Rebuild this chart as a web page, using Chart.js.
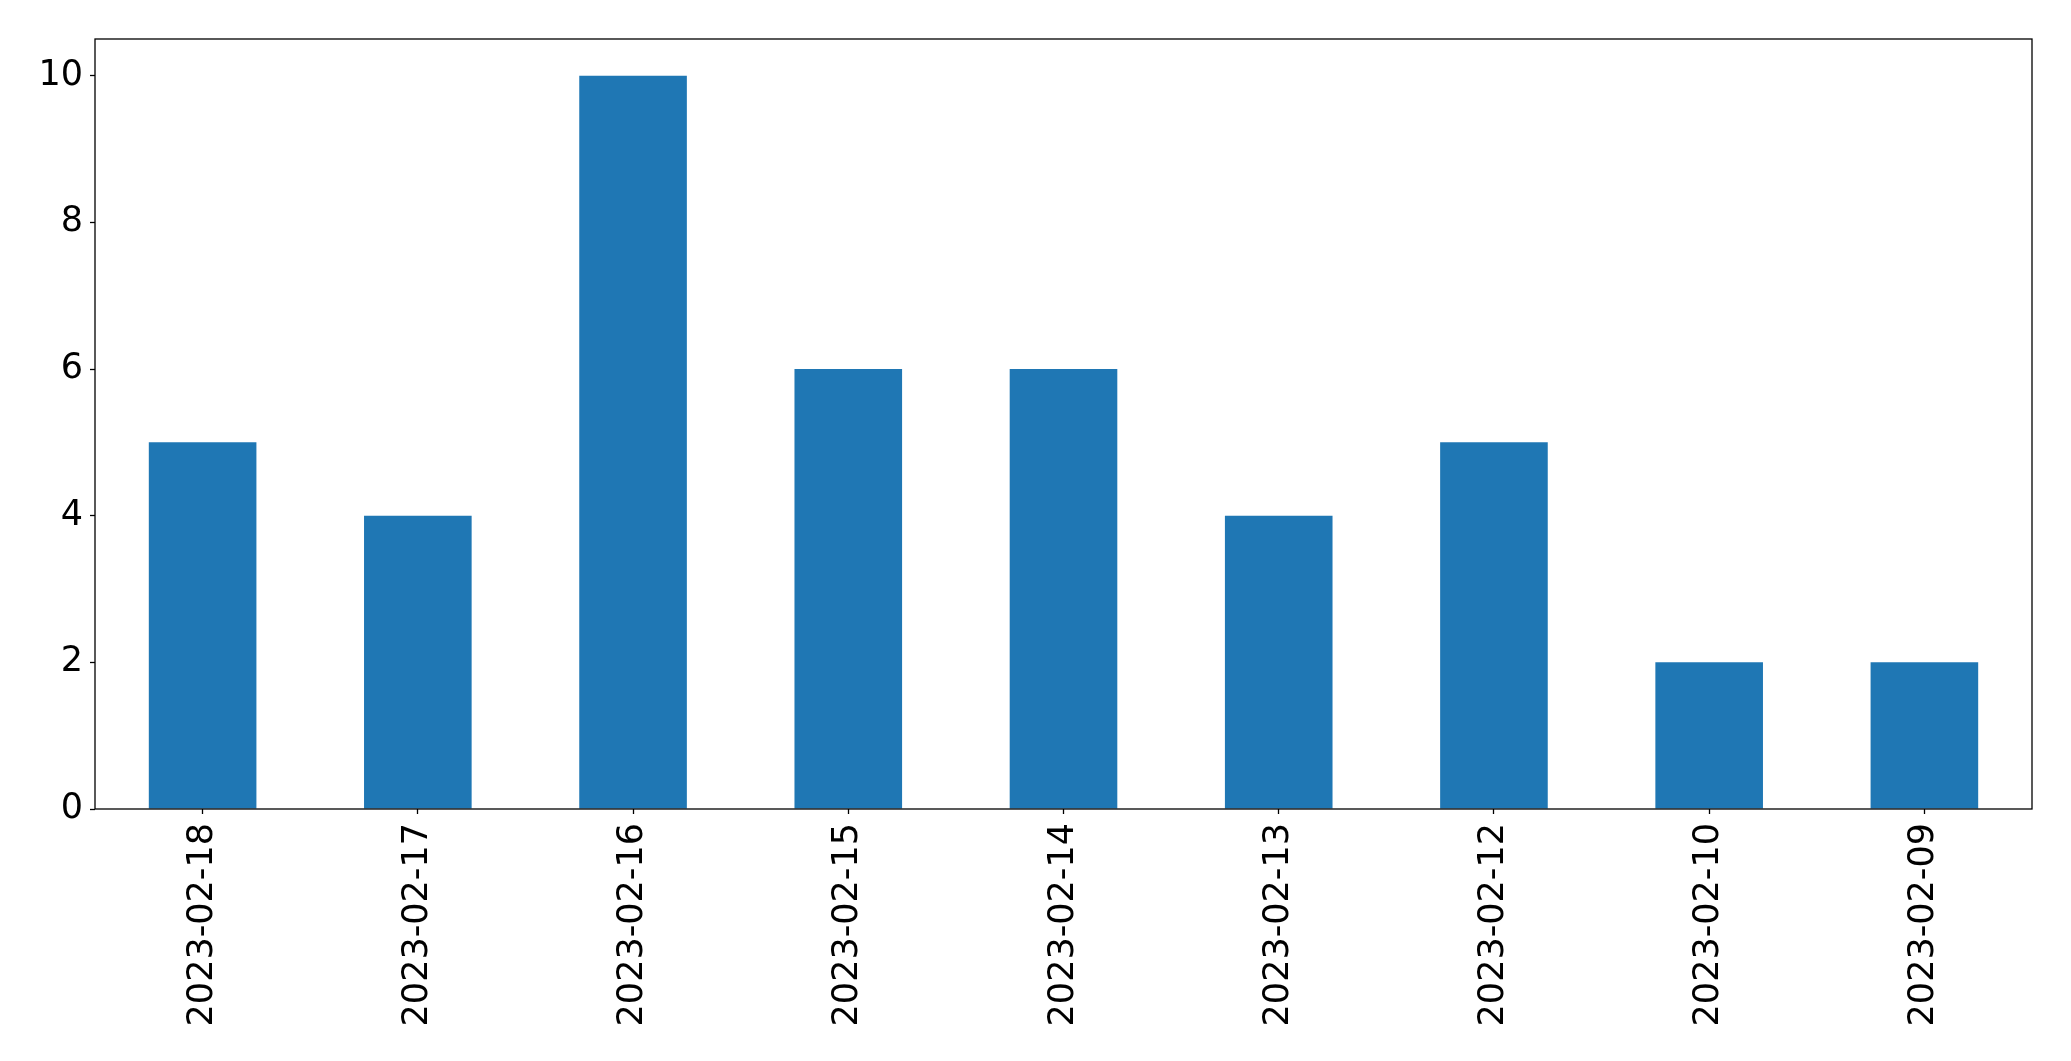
<!DOCTYPE html>
<html lang="en">
<head>
    <meta charset="UTF-8">
    <title>Daily counts</title>
    <style>
        body {
            margin: 0;
            background: #ffffff;
        }
        #wrap {
            width: 2071px;
            height: 1061px;
        }
    </style>
</head>
<body>
    <div id="wrap">
        <canvas id="chart" width="2071" height="1061"></canvas>
    </div>
    <script src="https://cdn.jsdelivr.net/npm/chart.js"></script>
    <script>
        const dates = ['2023-02-18', '2023-02-17', '2023-02-16', '2023-02-15', '2023-02-14',
                       '2023-02-13', '2023-02-12', '2023-02-10', '2023-02-09'];
        const counts = [5, 4, 10, 6, 6, 4, 5, 2, 2];
        const yTicks = [0, 2, 4, 6, 8, 10];

        // matplotlib-style box around the plot area
        const frame = {
            id: 'frame',
            afterDatasetsDraw(chart) {
                const a = chart.chartArea;
                const ctx = chart.ctx;
                ctx.save();
                ctx.strokeStyle = '#000000';
                ctx.lineWidth = 1.3;
                ctx.strokeRect(a.left, a.top, a.right - a.left, a.bottom - a.top);
                ctx.restore();
            }
        };

        new Chart(document.getElementById('chart'), {
            type: 'bar',
            data: {
                labels: dates,
                datasets: [{
                    data: counts,
                    backgroundColor: '#1f77b4',
                    borderWidth: 0,
                    barPercentage: 0.5,
                    categoryPercentage: 1.0
                }]
            },
            options: {
                responsive: false,
                animation: false,
                layout: {
                    padding: { left: 0, top: 39, right: 39, bottom: 0 }
                },
                plugins: {
                    legend: { display: false },
                    tooltip: { enabled: false }
                },
                scales: {
                    x: {
                        offset: true,
                        grid: {
                            offset: false,
                            drawOnChartArea: false,
                            tickLength: 5,
                            tickColor: '#000000',
                            tickWidth: 1.3
                        },
                        border: { display: false },
                        ticks: {
                            color: '#000000',
                            font: { family: 'DejaVu Sans', size: 35 },
                            minRotation: 90,
                            maxRotation: 90,
                            padding: 9,
                            autoSkip: false
                        },
                        afterFit(axis) { axis.height = 252; }
                    },
                    y: {
                        min: 0,
                        max: 10.5,
                        afterBuildTicks(axis) {
                            axis.ticks = yTicks.map(v => ({ value: v }));
                        },
                        grid: {
                            drawOnChartArea: false,
                            tickLength: 5,
                            tickColor: '#000000',
                            tickWidth: 1.3
                        },
                        border: { display: false },
                        ticks: {
                            color: '#000000',
                            font: { family: 'DejaVu Sans', size: 35 },
                            padding: 7
                        },
                        afterFit(axis) { axis.width = 95; }
                    }
                }
            },
            plugins: [frame]
        });
    </script>
</body>
</html>
